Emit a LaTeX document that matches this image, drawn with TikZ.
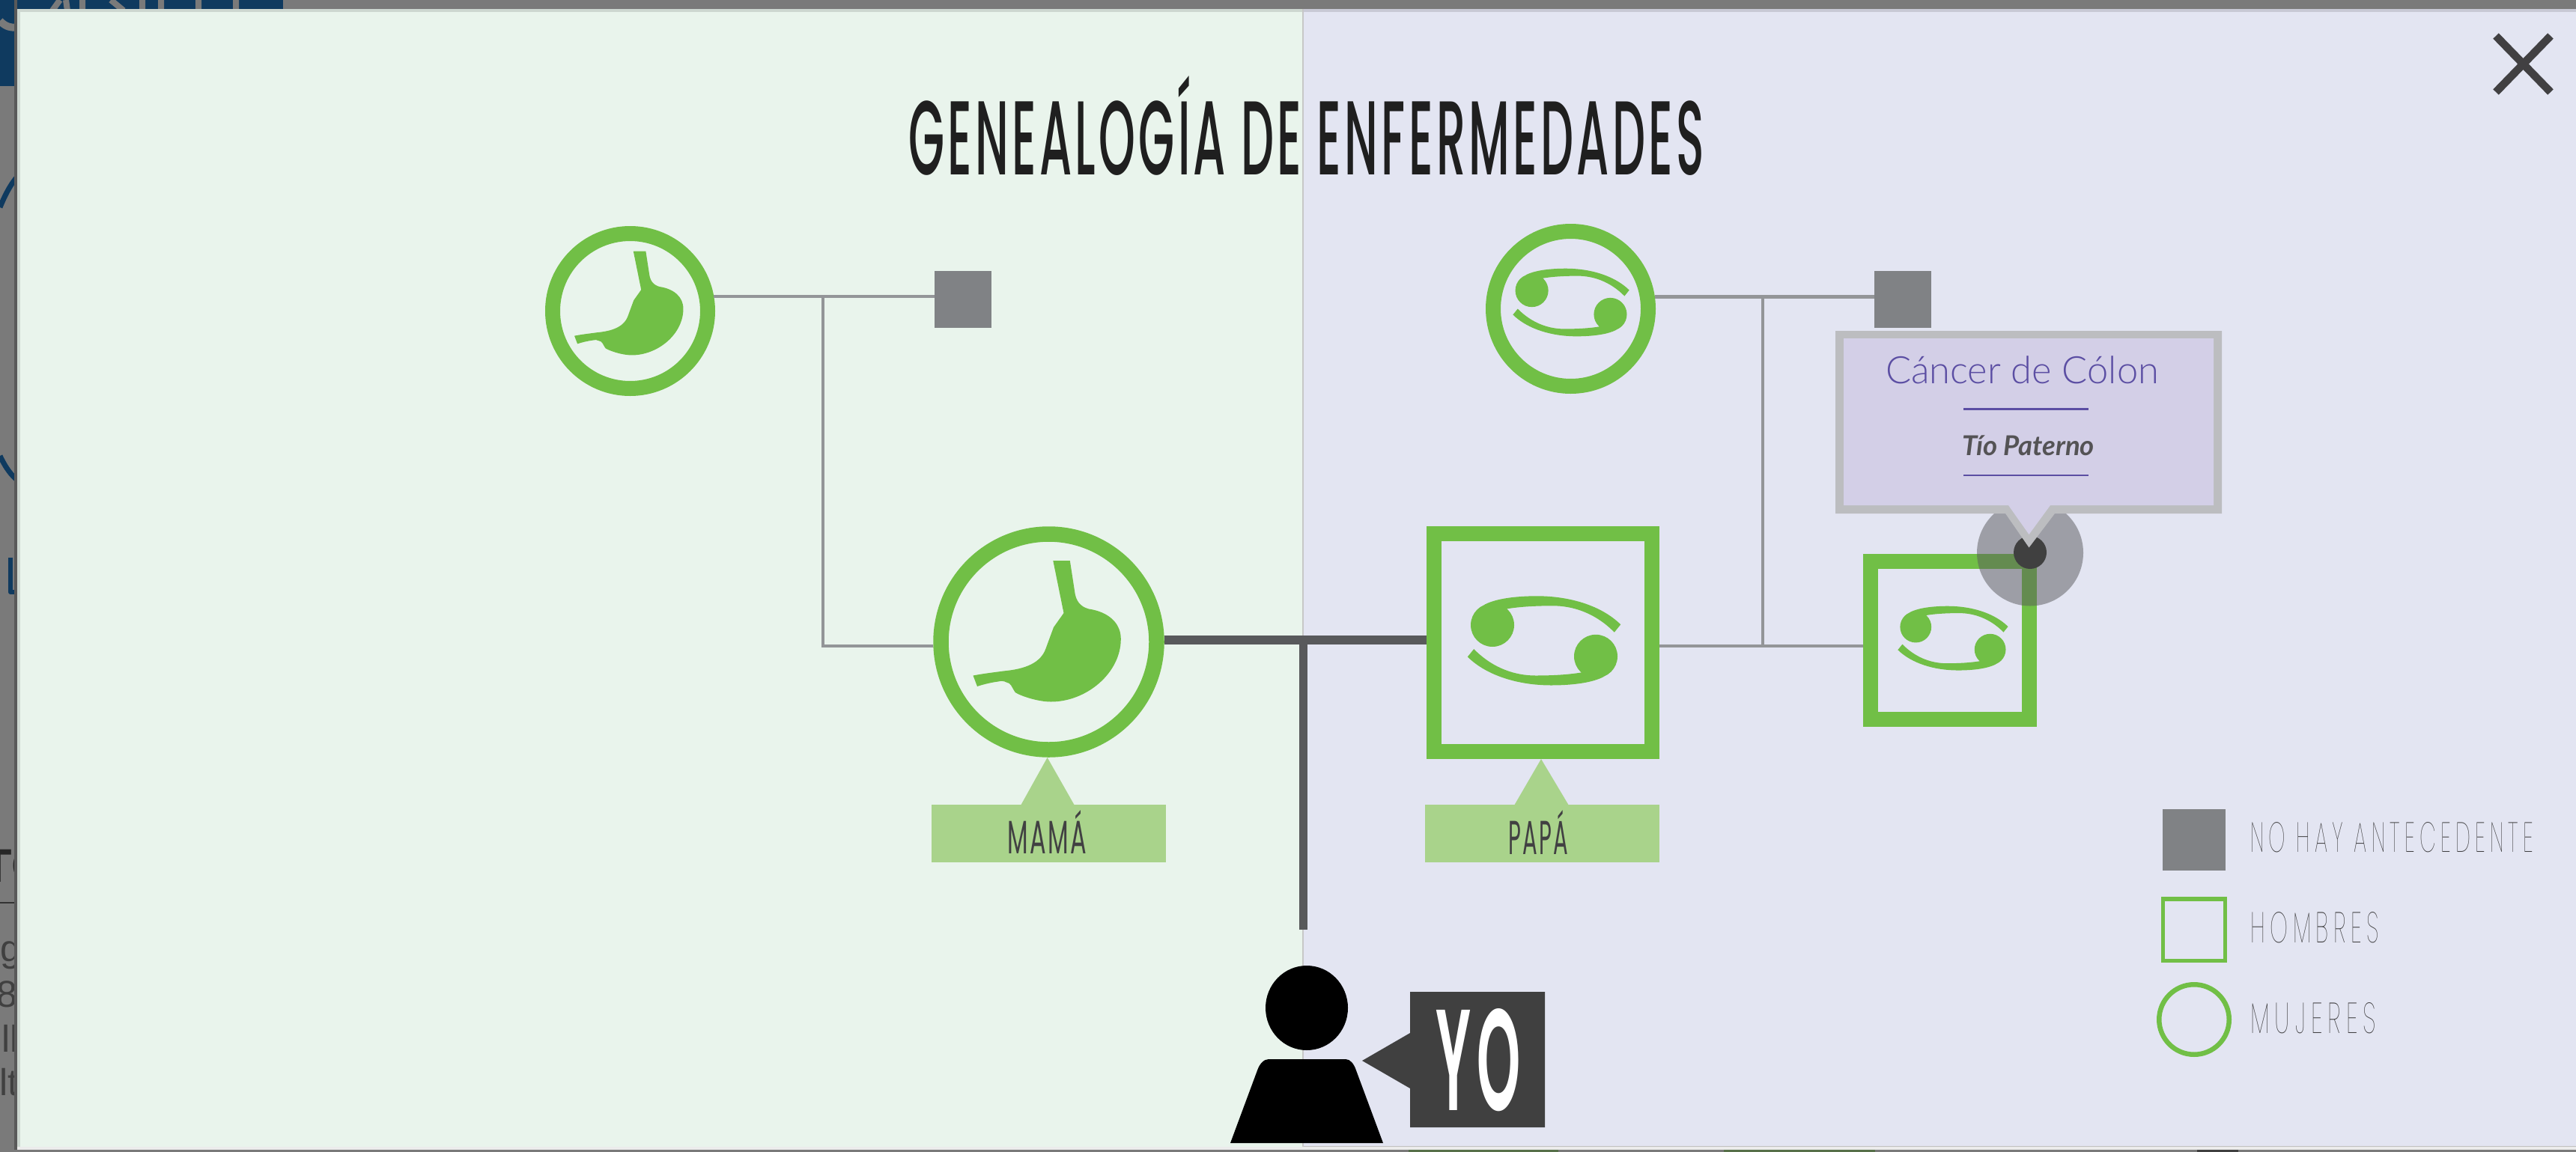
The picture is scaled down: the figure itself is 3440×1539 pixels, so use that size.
\documentclass[tikz,border=0pt]{standalone}
\usepackage{graphicx}
\usepackage{fontspec}
\setmainfont{Liberation Sans}
\newfontfamily\titlef[UprightFont=* Medium,LetterSpace=7]{Poppins}
\newfontfamily\labelf[UprightFont=* Regular,LetterSpace=8]{Poppins}
\newfontfamily\thinf[UprightFont=* Thin,LetterSpace=22]{Poppins}
\newfontfamily\yof[UprightFont=* SemiBold,LetterSpace=12]{Poppins}
\newfontfamily\latof{Lato}
\newfontfamily\latol[UprightFont=* Light]{Lato}
\definecolor{gr}{HTML}{71BF46}
\definecolor{lgr}{HTML}{A9D38B}
\definecolor{panelL}{HTML}{E9F4EC}
\definecolor{panelR}{HTML}{E3E5F2}
\definecolor{grey1}{HTML}{808285}
\definecolor{line1}{HTML}{939598}
\definecolor{line2}{HTML}{58595B}
\definecolor{dk}{HTML}{414042}
\definecolor{lil}{HTML}{D3CFE7}
\definecolor{tipb}{HTML}{BCBDC0}
\definecolor{purp}{HTML}{5B4EA3}
\definecolor{navy}{HTML}{0F3A5F}
\definecolor{bgg}{HTML}{7A7A7A}
\newcommand\fit[3]{\resizebox{#1pt}{#2pt}{#3}}
\newcommand\stomachicon[3]{%
 \fill[gr,shift={(#1,#2)},scale=#3] (5.8,-108.5) -- (28.3,-108.5) -- (34.6,-67.5)
  .. controls (36,-55) and (42,-47) .. (53.5,-44)
  .. controls (80,-40) and (96.3,-25) .. (96.3,-4)
  .. controls (96.3,42) and (50,80) .. (3,80)
  .. controls (-15,80) and (-38,72) .. (-44.7,67.5)
  .. controls (-50,60) and (-50,55) .. (-56.6,54)
  .. controls (-60,52) and (-64,52) .. (-67.5,53)
  .. controls (-75,54) and (-85,56) .. (-95.5,59.5)
  -- (-101,45) .. controls (-85,42) and (-75,41) .. (-60.5,39)
  .. controls (-40,37) and (-12,32) .. (-4,9)
  .. controls (0,-2) and (3,-10) .. (6.5,-19.5)
  -- (20,-38.5) -- cycle;}
\newcommand\cancerhalf{%
 \fill[gr] (-67,-23.5) circle[radius=29];
 \fill[gr] (-77.5,-50.8) .. controls (-60,-60) and (-30,-62.2) .. (-7.4,-62.2)
  .. controls (35,-62.2) and (78,-50) .. (104.2,-24.2) -- (95.8,-13.8)
  .. controls (70,-40) and (40,-49.2) .. (13.7,-49.2)
  .. controls (-10,-49.2) and (-30,-48) .. (-47.4,-45.2) -- (-55,-30) -- cycle;}
\newcommand\cancericon[3]{%
 \begin{scope}[shift={(#1,#2)},scale=#3]
  \cancerhalf
  \begin{scope}[rotate around={180:(2,-2.6)}]\cancerhalf\end{scope}
 \end{scope}}
\tikzset{
 ring/.style={circle,draw=gr,line width=20pt,fill=none,inner sep=0pt},
 boxm/.style={rectangle,draw=gr,line width=20pt,fill=none,inner sep=0pt},
 nohist/.style={rectangle,fill=grey1,draw=none,inner sep=0pt,outer sep=0pt,minimum width=76pt,minimum height=76pt},
 thinl/.style={line1,line width=4.5pt},
 thickl/.style={line2,line width=11.5pt},
 lab/.style={anchor=base west,inner sep=0pt,outer sep=0pt},
 tag/.style={fill=lgr,draw=none,inner sep=0pt,outer sep=0pt,minimum width=313pt,minimum height=77pt}
}
\begin{document}
\begin{tikzpicture}[x=1pt,y=-1pt]
\useasboundingbox (0,0) rectangle (3440,1539);
% page behind the dialog
\fill[bgg] (0,0) rectangle (3440,1539);
\fill[navy] (0,0) rectangle (378,115);
\draw[bgg,line width=10pt] (0,28) .. controls (8,36) and (14,38) .. (30,36);
\draw[bgg,line width=8pt] (70,14) -- (80,0) (88,0) -- (90,14) (110,0) -- (110,14) (148,0) -- (165,14) (190,0) -- (190,14) (215,0) -- (215,14) (265,0) -- (265,14) (315,0) -- (315,14);
\draw[navy,line width=7pt] (0,277) .. controls (6,262) and (14,246) .. (24,235);
\draw[navy,line width=7pt] (0,609) .. controls (8,626) and (16,636) .. (24,642);
\draw[navy,line width=6pt,line join=round] (14,745) -- (14,791) -- (24,791);
\node[lab,font=\fontsize{63}{63}\selectfont\bfseries,text=black!85] (bgT) at (-22,1178) {TO};
\draw[black!80,line width=1.5pt] (0,1206) -- (24,1206);
\node[lab,font=\fontsize{50}{50}\selectfont,text=black!75] (bg1) at (1,1284) {g};
\node[lab,font=\fontsize{50}{50}\selectfont,text=black!75] (bg2) at (-5,1345) {8};
\node[lab,font=\fontsize{50}{50}\selectfont,text=black!75] (bg3) at (2,1405) {ll};
\node[lab,font=\fontsize{50}{50}\selectfont,text=black!75] (bg4) at (-1,1463) {lt};
\fill[black!65] (19,0) rectangle (23,1536);
% bottom strip
\fill[gr!40!black!80] (1881,1535.5) rectangle (2081,1539);
\fill[gr!40!black!80] (2302,1535.5) rectangle (2504,1539);
\fill[black!75] (2934,1535.5) rectangle (2989,1539);
% dialog
\fill[white!92!black] (23,12) rectangle (3440,1536);
\fill[panelL!88!black] (23,12) rectangle (1740,1532);
\fill[panelR!88!black] (1740,12) rectangle (3440,1532);
\fill[panelL] (27,16) rectangle (1740,1532);
\fill[panelR] (1740,16) rectangle (3440,1531);
\draw[black!25,line width=1pt] (1740,1531) -- (3440,1531);
\draw[black!22,line width=1.2pt] (1740,12) -- (1740,1532);
% title
\node[lab,text=black!88] (title) at (1213,233) {\fit{1063}{132}{\titlef GENEALOGÍA DE ENFERMEDADES}};
% close
\coordinate (xa) at (3333,48); \coordinate (xb) at (3406,123);
\coordinate (xc) at (3406,48); \coordinate (xd) at (3333,123);
\draw[dk,line width=10.5pt] (xa) -- (xb) (xc) -- (xd);
% people
\node[ring,minimum size=207pt] (gm) at (841.5,415.5) {};
\node[nohist] (gp) at (1286,400) {};
\node[ring,minimum size=207pt] (gf) at (2097.5,412.5) {};
\node[nohist] (gq) at (2541,400) {};
\node[ring,minimum size=288pt,line width=20.5pt] (mama) at (1400.5,857.5) {};
\node[boxm,minimum width=291pt,minimum height=291pt] (papa) at (2060,858.5) {};
\node[boxm,minimum width=212pt,minimum height=211pt] (uncle) at (2604,855.5) {};
\stomachicon{841.5}{415.5}{.737}
\stomachicon{1400.5}{857.5}{1}
\cancericon{2096.5}{406}{.76}
\cancericon{2060}{858.5}{1}
\cancericon{2606.5}{854.5}{.72}
% junctions
\coordinate (jm) at (1099,396);
\coordinate (jmb) at (1099,863);
\coordinate (jp) at (2354,396);
\coordinate (jpb) at (2354,863);
\coordinate (jc) at (1740.5,855);
\coordinate (me) at (1740.5,1242);
\draw[thinl] (gm.10) -- (gm.10 -| gp.west);
\draw[thinl] (jm) -- (jmb) -- (jmb -| mama.west);
\draw[thinl] (gf.8) -- (gf.8 -| gq.west);
\draw[thinl] (jp) -- (jpb);
\draw[thinl] (jpb -| papa.east) -- (jpb -| uncle.west);
\draw[thickl] (mama.east |- jc) -- (jc -| papa.west);
\draw[thickl] (jc) -- (me);
% labels
\fill[lgr] (1398.6,1012) -- (1363,1076) -- (1435,1076) -- cycle;
\fill[lgr] (2058,1014) -- (2022,1076) -- (2095,1076) -- cycle;
\node[tag] (tm) at (1400.5,1113.5) {};
\node[tag] (tp) at (2059.5,1113.5) {};
\node[lab,text=dk] (lm) at (1345,1140) {\fit{106}{58}{\labelf MAMÁ}};
\node[lab,text=dk] (lp) at (2014,1141) {\fit{80}{59}{\labelf PAPÁ}};
% marker and tooltip
\fill[line2,opacity=.5] (2711,738.5) circle[radius=71];
\fill[black!75] (2711,738) circle[radius=22];
\fill[tipb] (2451,442) -- (2967,442) -- (2967,686) -- (2744,686) -- (2709.5,731.5) -- (2678,686) -- (2451,686) -- cycle;
\fill[lil] (2462,452) -- (2956,452) -- (2956,675) -- (2738,675) -- (2709.5,714) -- (2682,675) -- (2462,675) -- cycle;
\node[lab,text=purp] (tt) at (2518,512) {\resizebox{365pt}{!}{\latol Cáncer de Cólon}};
\node[lab,text=dk!90] (ts) at (2620,608) {\resizebox{177pt}{!}{\latof\bfseries\itshape Tío Paterno}};
\draw[purp,line width=2.2pt] (2622,546.5) -- (2789,546.5) (2622,635) -- (2789,635);
% person
\fill[black] (1745,1346.5) ellipse[x radius=55,y radius=56.5];
\fill[black] (1643,1527) -- (1679,1430) .. controls (1682,1421) and (1688,1415) .. (1694,1415) -- (1797,1415) .. controls (1803,1415) and (1808,1421) .. (1811,1430) -- (1847,1527) -- cycle;
\fill[black!75] (1883,1325) -- (2063,1325) -- (2063,1506) -- (1883,1506) -- (1883,1454) -- (1819,1417) -- (1883,1380) -- cycle;
\node[lab,text=white] (yo) at (1917,1483) {\fit{114}{136}{\yof YO}};
% legend
\node[rectangle,fill=grey1,inner sep=0pt,outer sep=0pt,minimum width=84pt,minimum height=82pt] (k1) at (2930,1122) {};
\node[rectangle,draw=gr,line width=5.5pt,inner sep=0pt,minimum width=83pt,minimum height=82.5pt] (k2) at (2930,1242) {};
\node[circle,draw=gr,line width=6.5pt,inner sep=0pt,minimum size=93.5pt] (k3) at (2930,1362) {};
\node[lab,text=dk] (t1) at (3005,1138) {\fit{378}{40}{\thinf NO HAY ANTECEDENTE}};
\node[lab,text=dk] (t2) at (3005,1259) {\fit{172}{41}{\thinf HOMBRES}};
\node[lab,text=dk] (t3) at (3005,1380) {\fit{168}{41}{\thinf MUJERES}};
\end{tikzpicture}
\end{document}
